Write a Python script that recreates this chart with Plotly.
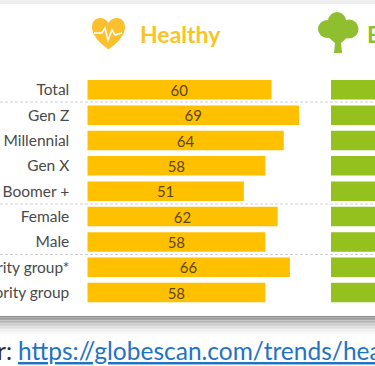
import plotly.graph_objects as go

categories = ["Total", "Gen Z", "Millennial", "Gen X", "Boomer +", "Female", "Male",
              "Minority group*", "Majority group"]
healthy = [60, 69, 64, 58, 51, 62, 58, 66, 58]
# The second panel is cut off by the frame, so these lengths are estimates
second_panel = [52, 55, 54, 50, 48, 54, 50, 56, 50]

W, H = 375, 366
PX_PER_UNIT = 3.07
BAR_LEFT = 87.3
PITCH = 25.35
FIRST_ROW_Y = 89.8
AMBER = "#FFC000"
GREEN = "#95C11F"
TEXT = "#4a4a4a"
LATO = "Lato, 'Open Sans', sans-serif"


def px(x):
    return x / W


def py(y):
    return 1 - y / H


fig = go.Figure()
fig.add_bar(y=categories, x=healthy, orientation="h", width=19.5 / PITCH,
            marker=dict(color=AMBER, line=dict(width=0)),
            text=[str(v) for v in healthy], textposition="inside", insidetextanchor="middle",
            textangle=0, constraintext="none",
            textfont=dict(family=LATO, size=15, color="#5c4716"),
            xaxis="x", yaxis="y", hoverinfo="skip")
fig.add_bar(y=categories, x=second_panel, orientation="h", width=19.5 / PITCH,
            marker=dict(color=GREEN, line=dict(width=0)),
            xaxis="x2", yaxis="y", hoverinfo="skip", textposition="none")

shapes = []
# top band
shapes.append(dict(type="rect", xref="paper", yref="paper", x0=0, x1=1, y0=py(4), y1=py(0),
                   fillcolor="#eeeeee", line=dict(width=0), layer="above"))
# dashed separators
for y in (102, 204, 254.5):
    shapes.append(dict(type="line", xref="paper", yref="paper", x0=0, x1=1, y0=py(y), y1=py(y),
                       line=dict(color="#d0d0d0", width=1, dash="3px,2px"), layer="above"))
# bottom shadow
shadow = ["#8f8f8f", "#9c9c9c", "#a9a9a9", "#b5b5b5", "#c0c0c0", "#cbcbcb", "#d5d5d5",
          "#dedede", "#e6e6e6", "#ededed", "#f3f3f3", "#f8f8f8", "#fcfcfc"]
for i, c in enumerate(shadow):
    shapes.append(dict(type="rect", xref="paper", yref="paper", x0=0, x1=1,
                       y0=py(316 + i * 1.5 + 1.5), y1=py(316 + i * 1.5),
                       fillcolor=c, line=dict(width=0), layer="above"))


def path(points, close=True):
    s = ""
    for cmd, *c in points:
        s += cmd + " ".join(f"{(v / W if k % 2 == 0 else 1 - v / H):.5f}" for k, v in enumerate(c)) + " "
    return s + ("Z" if close else "")


# heart icon
shapes.append(dict(type="path", xref="paper", yref="paper", fillcolor="#FBC02D", line=dict(width=0),
                   path=path([("M", 108.5, 49.5), ("C", 100, 43, 92, 36, 92, 27),
                              ("C", 92, 21, 96, 18, 100, 18), ("C", 104, 18, 107, 20, 108.5, 23),
                              ("C", 110, 20, 113, 18, 117, 18), ("C", 122, 18, 125, 22, 125, 27),
                              ("C", 125, 36, 117, 43, 108.5, 49.5)])))
shapes.append(dict(type="path", xref="paper", yref="paper", line=dict(color="white", width=1.5),
                   path=path([("M", 94, 33), ("L", 102, 33), ("L", 105, 28), ("L", 108, 40),
                              ("L", 112, 30), ("L", 115, 35), ("L", 122, 33)], close=False)))
# tree icon
for cx, cy, r in [(337, 21, 9), (327, 29, 9), (349, 29, 9.5), (338, 29, 11)]:
    shapes.append(dict(type="circle", xref="paper", yref="paper", fillcolor="#8FBF2F", line=dict(width=0),
                       x0=px(cx - r), x1=px(cx + r), y0=py(cy + r), y1=py(cy - r)))
shapes.append(dict(type="path", xref="paper", yref="paper", fillcolor="#8FBF2F", line=dict(width=0),
                   path=path([("M", 334, 53), ("L", 335, 43), ("L", 327, 36), ("L", 330, 35), ("L", 336, 39),
                              ("L", 336, 32), ("L", 340, 32), ("L", 340, 39), ("L", 347, 35),
                              ("L", 349, 36), ("L", 341, 43), ("L", 342, 53)])))

annotations = [
    dict(text="<b>Healthy</b>", x=px(137.5), y=py(34), xref="paper", yref="paper", xanchor="left",
         yanchor="middle", showarrow=False, font=dict(family=LATO, size=23, color="#F9C526")),
    dict(text="<b>Eco-friendly</b>", x=px(365), y=py(34), xref="paper", yref="paper", xanchor="left",
         yanchor="middle", showarrow=False, font=dict(family=LATO, size=23, color="#8FBF2F")),
    dict(text="https://globescan.com/trends/healthy-and-sustainable-living", x=px(16), y=py(350),
         xref="paper", yref="paper", xanchor="left", yanchor="middle", showarrow=False,
         font=dict(family=LATO, size=24.5, color="#1F73C4", lineposition="under")),
    dict(text="r:", x=px(14), y=py(350), xref="paper", yref="paper", xanchor="right", yanchor="middle",
         showarrow=False, font=dict(family=LATO, size=24.5, color="#303030")),
]

fig.update_layout(
    width=W, height=H, margin=dict(l=0, r=0, t=0, b=0), autosize=False,
    paper_bgcolor="white", plot_bgcolor="white", showlegend=False, barmode="overlay",
    xaxis=dict(domain=[BAR_LEFT / W, 1], range=[0, (W - BAR_LEFT) / PX_PER_UNIT], visible=False,
               fixedrange=True, automargin=False),
    xaxis2=dict(domain=[331 / W, 1], range=[0, (W - 331) / PX_PER_UNIT], visible=False, fixedrange=True,
                anchor="y", automargin=False),
    yaxis=dict(categoryorder="array", categoryarray=categories, automargin=False,
               range=[(H - FIRST_ROW_Y) / PITCH, -FIRST_ROW_Y / PITCH],
               showgrid=False, zeroline=False, showline=False, ticks="", ticklabelstandoff=17,
               tickfont=dict(family=LATO, size=15.5, color=TEXT), fixedrange=True),
    shapes=shapes, annotations=annotations,
)
fig.write_html("out.html", config=dict(displayModeBar=False),
               post_script="document.body.style.margin='0';document.documentElement.style.overflow='hidden';")
